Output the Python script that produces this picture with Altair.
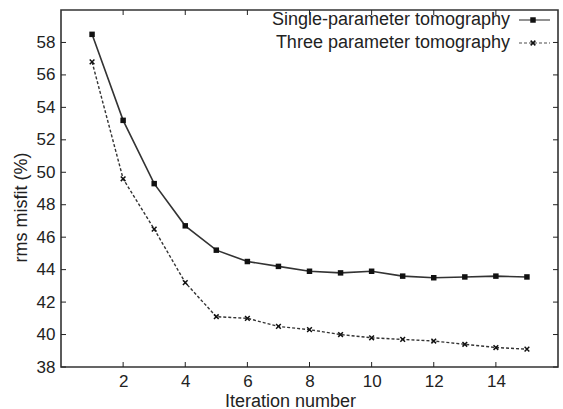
import altair as alt
import pandas as pd

# Misfit per iteration for the two inversion schemes
iterations = list(range(1, 16))
single_param = [58.5, 53.2, 49.3, 46.7, 45.2, 44.5, 44.2, 43.9, 43.8, 43.9, 43.6, 43.5, 43.55, 43.6, 43.55]
three_param = [56.8, 49.6, 46.5, 43.2, 41.1, 41.0, 40.5, 40.3, 40.0, 39.8, 39.7, 39.6, 39.4, 39.2, 39.1]
series_names = ["Single-parameter tomography", "Three parameter tomography"]

x_ticks = [2, 4, 6, 8, 10, 12, 14]
y_ticks = [38, 40, 42, 44, 46, 48, 50, 52, 54, 56, 58]

W, H = 497, 357
FONT = "Liberation Sans"
INK = "#222222"

single_df = pd.DataFrame({"iter": iterations, "misfit": single_param})
three_df = pd.DataFrame({"iter": iterations, "misfit": three_param})

xs = alt.Scale(domain=[0, 16], nice=False)
ys = alt.Scale(domain=[38, 60], nice=False)

x_axis = alt.Axis(values=x_ticks, title="Iteration number", tickSize=0, domain=False,
                  grid=False, labelPadding=6, labelOverlap=False, labelFlush=False,
                  titleX=229, titleY=39, titleBaseline="alphabetic")
y_axis = alt.Axis(values=y_ticks, title="rms misfit (%)", tickSize=0, domain=False,
                  grid=False, labelPadding=6, labelOverlap=False, labelFlush=False,
                  titleX=-35, titleY=197, titleAngle=270, titleBaseline="alphabetic")

X = alt.X("iter:Q", scale=xs, axis=x_axis)
Y = alt.Y("misfit:Q", scale=ys, axis=y_axis)

cross_shape = "M-1,-1L1,1M-1,1L1,-1"

single_line = alt.Chart(single_df).mark_line(color="#333333", strokeWidth=1.6).encode(x=X, y=Y)
single_pts = alt.Chart(single_df).mark_point(shape="square", filled=True, color="#111111",
                                             size=30, opacity=1).encode(x=X, y=Y)
three_line = alt.Chart(three_df).mark_line(color="#333333", strokeWidth=1.4,
                                           strokeDash=[3, 2]).encode(x=X, y=Y)
three_pts = alt.Chart(three_df).mark_point(shape=cross_shape, filled=False, color="#111111",
                                           size=22, strokeWidth=1.5, opacity=1).encode(x=X, y=Y)

# Inward tick marks on all four sides of the frame
xt = pd.DataFrame({"iter": x_ticks})
yt = pd.DataFrame({"misfit": y_ticks})
tick_style = dict(color=INK, strokeWidth=1)
bottom_ticks = alt.Chart(xt).mark_rule(**tick_style).encode(
    x=X, y=alt.value(H), y2=alt.value(H - 5))
top_ticks = alt.Chart(xt).mark_rule(**tick_style).encode(
    x=X, y=alt.value(0), y2=alt.value(5))
left_ticks = alt.Chart(yt).mark_rule(**tick_style).encode(
    y=Y, x=alt.value(0), x2=alt.value(5))
right_ticks = alt.Chart(yt).mark_rule(**tick_style).encode(
    y=Y, x=alt.value(W), x2=alt.value(W - 5))

# Legend in the upper-right corner: label followed by a line sample
leg = pd.DataFrame({"name": series_names})
leg_text = alt.Chart(leg).transform_filter(alt.datum.name == series_names[0]).mark_text(
    align="right", baseline="middle", font=FONT, fontSize=18, color=INK
).encode(text="name:N", x=alt.value(449), y=alt.value(10))
leg_text2 = alt.Chart(leg).transform_filter(alt.datum.name == series_names[1]).mark_text(
    align="right", baseline="middle", font=FONT, fontSize=18, color=INK
).encode(text="name:N", x=alt.value(449), y=alt.value(33))
leg_line1 = alt.Chart(leg).transform_filter(alt.datum.name == series_names[0]).mark_rule(
    color="#777777", strokeWidth=1.6
).encode(x=alt.value(458), x2=alt.value(489), y=alt.value(10))
leg_line2 = alt.Chart(leg).transform_filter(alt.datum.name == series_names[1]).mark_rule(
    color="#888888", strokeWidth=1.4, strokeDash=[3, 2]
).encode(x=alt.value(458), x2=alt.value(489), y=alt.value(33))
leg_pt1 = alt.Chart(leg).transform_filter(alt.datum.name == series_names[0]).mark_point(
    shape="square", filled=True, color="#111111", size=30, opacity=1
).encode(x=alt.value(472), y=alt.value(10))
leg_pt2 = alt.Chart(leg).transform_filter(alt.datum.name == series_names[1]).mark_point(
    shape=cross_shape, filled=False, color="#111111", size=22, strokeWidth=1.5, opacity=1
).encode(x=alt.value(472), y=alt.value(33))

chart = alt.layer(
    single_line, three_line, single_pts, three_pts,
    bottom_ticks, top_ticks, left_ticks, right_ticks,
    leg_text, leg_text2, leg_line1, leg_line2, leg_pt1, leg_pt2,
).properties(
    width=W, height=H,
    autosize=alt.AutoSizeParams(type="none"),
    padding={"left": 61, "top": 10, "right": 5, "bottom": 42},
    background="white",
).configure_view(
    stroke="#333333", strokeWidth=1.6
).configure_axis(
    labelFont=FONT, labelFontSize=17, labelColor=INK,
    titleFont=FONT, titleFontSize=18, titleFontWeight="normal", titleColor=INK,
)

chart.save("out.html", embed_options={"renderer": "svg", "actions": False})
